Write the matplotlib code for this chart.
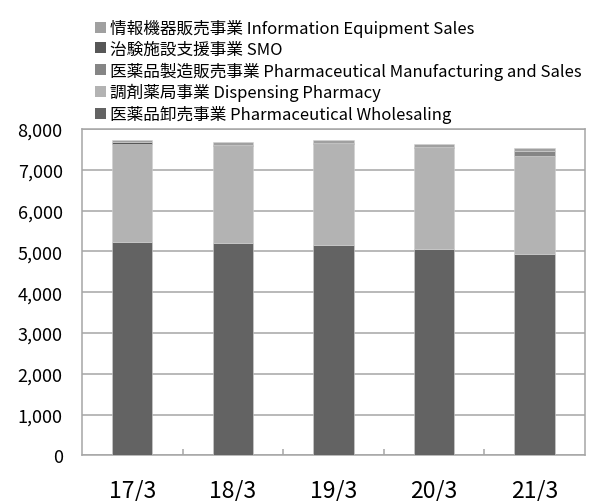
import numpy as np
import matplotlib
matplotlib.use("Agg")
import matplotlib.pyplot as plt
from matplotlib.patches import Patch
from matplotlib.ticker import FuncFormatter, FixedLocator

plt.rcParams['font.family'] = ['Noto Sans CJK JP', 'DejaVu Sans']

periods = ["17/3", "18/3", "19/3", "20/3", "21/3"]
wholesale = [5240, 5215, 5165, 5060, 4940]
dispensing = [2400, 2370, 2465, 2475, 2405]
manufacturing = [4, 4, 4, 4, 108]
smo = [26, 30, 30, 30, 18]
info = [64, 66, 66, 66, 58]

labels = [
    "医薬品卸売事業 Pharmaceutical Wholesaling",
    "調剤薬局事業 Dispensing Pharmacy",
    "医薬品製造販売事業 Pharmaceutical Manufacturing and Sales",
    "治験施設支援事業 SMO",
    "情報機器販売事業 Information Equipment Sales",
]
colors = ["#636363", "#b3b3b3", "#858585", "#575757", "#a0a0a0"]
series = [wholesale, dispensing, manufacturing, smo, info]

fig = plt.figure(figsize=(5.95, 5.02), dpi=100)
ax = fig.add_axes([0.138, 0.091, 0.845, 0.650])

x = np.arange(len(periods))
bottom = np.zeros(len(periods))
for vals, c in zip(series, colors):
    ax.bar(x, vals, 0.4, bottom=bottom, color=c, edgecolor="#d0d0d0",
           linewidth=0.4, zorder=3)
    bottom += np.array(vals)

ax.set_ylim(0, 8000)
ax.set_xlim(-0.5, len(periods) - 0.5)
ax.set_yticks(np.arange(0, 8001, 1000))
ax.yaxis.set_major_formatter(FuncFormatter(lambda v, p: f"{int(v):,}"))
ax.grid(axis="y", color="#a6a6a6", linewidth=1.1, zorder=0)
for s in ax.spines.values():
    s.set_color("#a6a6a6")
    s.set_linewidth(1.1)
ax.tick_params(axis="y", length=0, pad=14, labelsize=13)
ax.set_xticks(x)
ax.set_xticklabels(periods)
ax.tick_params(axis="x", which="major", length=0, pad=16.5, labelsize=16.5)
ax.xaxis.set_minor_locator(FixedLocator(x[:-1] + 0.5))
ax.tick_params(axis="x", which="minor", direction="in", length=4.5,
               color="#a6a6a6", width=1.1)

handles = [Patch(facecolor=c, edgecolor="none") for c in colors]
fig.legend(handles[::-1], labels[::-1], loc="upper left",
           bbox_to_anchor=(0.160, 0.960), frameon=False, fontsize=12.0,
           handlelength=0.65, handleheight=0.65, handletextpad=0.25,
           labelspacing=0.22, borderpad=0, borderaxespad=0)

fig.savefig("out.png", dpi=100)
